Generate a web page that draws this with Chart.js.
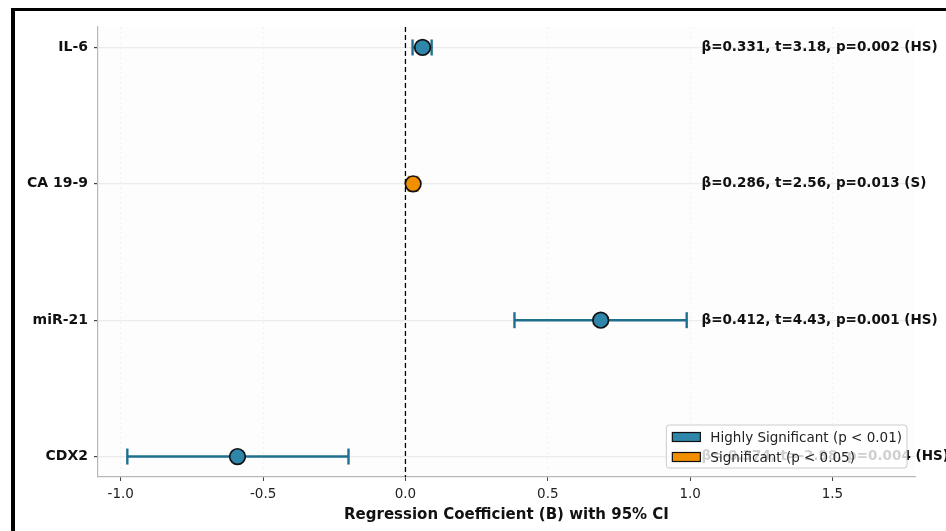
<!DOCTYPE html>
<html>
<head>
<meta charset="utf-8">
<script src="https://cdn.jsdelivr.net/npm/chart.js@4.4.1/dist/chart.umd.min.js"></script>
<style>
  html, body { margin: 0; padding: 0; background: #fff; }
  #wrap { position: relative; width: 946px; height: 531px; overflow: hidden; }
  #frame { position: absolute; left: 11px; top: 8px; width: 980px; height: 560px; border-left: 4px solid #000; border-top: 3px solid #000; }
  canvas { position: absolute; left: 0; top: 0; }
</style>
</head>
<body>
<div id="wrap">
  <div id="frame"></div>
  <canvas id="forestChart" width="946" height="531"></canvas>
</div>
<script>
// values, top row first
let factors = ['IL-6', 'CA 19-9', 'miR-21', 'CDX2'];
let estimates = [0.06, 0.027, 0.686, -0.59];
let ciLower = [0.025, 0.012, 0.383, -0.977];
let ciUpper = [0.092, 0.042, 0.988, -0.2];
let significance = ['HS', 'S', 'HS', 'HS'];
let statsText = [
    'β=0.331, t=3.18, p=0.002 (HS)',
    'β=0.286, t=2.56, p=0.013 (S)',
    'β=0.412, t=4.43, p=0.001 (HS)',
    'β=-0.374, t=-2.98, p=0.004 (HS)'
];
let xTicks = [-1.0, -0.5, 0.0, 0.5, 1.0, 1.5];
let legendKeys = ['HS', 'S'];
let legendLabels = ['Highly Significant (p < 0.01)', 'Significant (p < 0.05)'];

let font = 'DejaVu Sans';
let markerColors = { HS: '#2E86AB', S: '#F18F01' };
let barColors = { HS: '#1f6f8f', S: '#F18F01' };
let annotX = 1.04;

let ctx = document.getElementById('forestChart').getContext('2d');

let datasets = [];

// point estimates (drawn last, on top)
datasets.push({
    data: factors.map((f, i) => ({ x: estimates[i], y: i })),
    showLine: false,
    pointRadius: 7.8,
    pointBackgroundColor: significance.map(s => markerColors[s]),
    pointBorderColor: '#111',
    pointBorderWidth: 1.7
});

// 95% CI bars with vertical caps
factors.forEach((f, i) => {
    let c = barColors[significance[i]];
    datasets.push({
        data: [{ x: ciLower[i], y: i }, { x: ciUpper[i], y: i }],
        showLine: true,
        borderColor: c,
        borderWidth: 2.6,
        pointStyle: 'line',
        rotation: 90,
        pointRadius: 8,
        pointBorderColor: c,
        pointBorderWidth: 2.4
    });
});

// reference line at zero
datasets.push({
    data: [{ x: 0, y: -0.15 }, { x: 0, y: factors.length - 0.85 }],
    showLine: true,
    borderColor: '#000',
    borderWidth: 1.3,
    borderDash: [5, 3],
    pointRadius: 0
});

const decorations = {
    id: 'decorations',
    beforeDraw(chart) {
        let a = chart.chartArea;
        let c = chart.ctx;
        c.save();
        c.fillStyle = '#fdfdfd';
        c.fillRect(a.left, a.top, a.right - a.left, a.bottom - a.top);
        c.restore();
    },
    afterDatasetsDraw(chart) {
        let c = chart.ctx;
        let xs = chart.scales.x;
        let ys = chart.scales.y;
        let a = chart.chartArea;

        // stats text next to each row
        c.save();
        c.font = 'bold 13.5px "' + font + '"';
        c.fillStyle = '#111';
        c.textAlign = 'left';
        c.textBaseline = 'middle';
        statsText.forEach((t, i) => {
            c.fillText(t, xs.getPixelForValue(annotX), ys.getPixelForValue(i));
        });
        c.restore();

        // legend box, lower right
        c.save();
        c.font = '13.5px "' + font + '"';
        let textW = Math.max(...legendLabels.map(l => c.measureText(l).width));
        let w = 44 + textW + 5;
        let h = 43;
        let right = a.right - 8;
        let bottom = a.bottom - 9;
        let left = right - w;
        let top = bottom - h;
        c.beginPath();
        c.roundRect(left, top, w, h, 3);
        c.fillStyle = 'rgba(255,255,255,0.8)';
        c.fill();
        c.strokeStyle = '#cccccc';
        c.lineWidth = 1;
        c.stroke();
        legendLabels.forEach((l, i) => {
            let cy = top + 12 + i * 20;
            c.fillStyle = markerColors[legendKeys[i]];
            c.fillRect(left + 6, cy - 4.5, 28, 9);
            c.strokeStyle = '#111';
            c.lineWidth = 1.2;
            c.strokeRect(left + 6, cy - 4.5, 28, 9);
            c.fillStyle = '#222';
            c.textAlign = 'left';
            c.textBaseline = 'middle';
            c.fillText(l, left + 44, cy + 1);
        });
        c.restore();
    }
};

new Chart(ctx, {
    type: 'scatter',
    data: { datasets: datasets },
    options: {
        responsive: false,
        animation: false,
        events: [],
        layout: { padding: { top: 27, right: 31, left: 0, bottom: 0 } },
        plugins: {
            legend: { display: false },
            tooltip: { enabled: false }
        },
        scales: {
            x: {
                type: 'linear',
                min: -1.08,
                max: 1.79,
                afterBuildTicks: s => { s.ticks = xTicks.map(v => ({ value: v })); },
                afterFit: s => { s.height = 54; },
                ticks: {
                    callback: v => v.toFixed(1),
                    color: '#222',
                    font: { family: font, size: 13.5 },
                    padding: 5,
                    maxRotation: 0,
                    autoSkip: false
                },
                grid: {
                    color: 'rgba(0,0,0,0.045)',
                    tickColor: '#444',
                    tickLength: 4,
                    tickBorderDash: []
                },
                border: { display: true, color: '#b8b8b8', width: 1.2, dash: [2, 3] },
                title: {
                    display: true,
                    text: 'Regression Coefficient (B) with 95% CI',
                    color: '#111',
                    font: { family: font, size: 15, weight: 'bold' },
                    padding: { top: 4, bottom: 7 }
                }
            },
            y: {
                type: 'linear',
                reverse: true,
                min: -0.15,
                max: factors.length - 0.85,
                afterBuildTicks: s => { s.ticks = factors.map((f, i) => ({ value: i })); },
                afterFit: s => { s.width = 98; },
                ticks: {
                    callback: v => factors[v],
                    color: '#111',
                    font: { family: font, size: 14, weight: 'bold' },
                    padding: 6,
                    autoSkip: false
                },
                grid: {
                    color: '#ececec',
                    lineWidth: 1.2,
                    tickColor: '#444',
                    tickLength: 4
                },
                border: { display: true, color: '#b8b8b8', width: 1.2 }
            }
        }
    },
    plugins: [decorations]
});
</script>
</body>
</html>
